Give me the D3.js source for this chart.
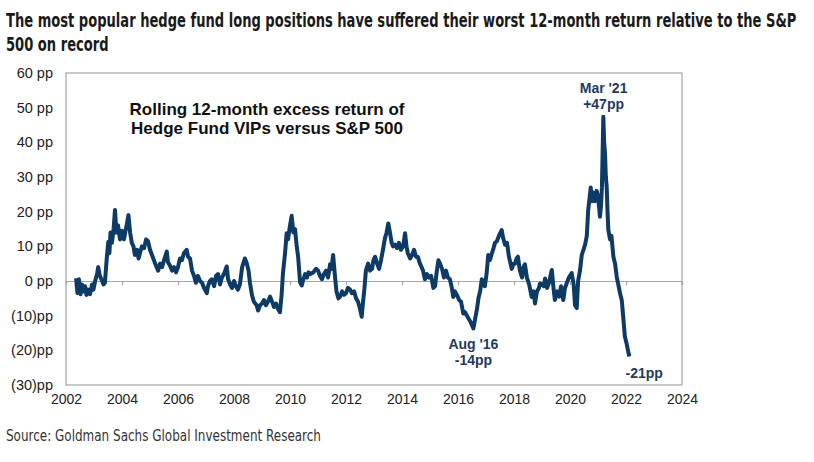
<!DOCTYPE html>
<html>
<head>
<meta charset="utf-8">
<script src="https://cdn.jsdelivr.net/npm/d3@7"></script>
<style>
  html, body { margin: 0; padding: 0; background: #fff; }
  svg { display: block; }
</style>
</head>
<body>
<svg id="chart" width="814" height="462"></svg>
<script>
// ---- Data ----
const titleLines = [
  "The most popular hedge fund long positions have suffered their worst 12-month return relative to the S&P",
  "500 on record"
];
const sourceText = "Source: Goldman Sachs Global Investment Research";
const boxLabel = ["Rolling 12-month excess return of", "Hedge Fund VIPs versus S&P 500"];

const yTicks = [60, 50, 40, 30, 20, 10, 0, -10, -20, -30];
const yTickLabels = ["60 pp", "50 pp", "40 pp", "30 pp", "20 pp", "10 pp", "0 pp", "(10)pp", "(20)pp", "(30)pp"];
const xTicks = [2002, 2004, 2006, 2008, 2010, 2012, 2014, 2016, 2018, 2020, 2022, 2024];

// decimal year
const dates = [
  2002.36,2002.41,2002.46,2002.52,2002.57,2002.63,2002.68,2002.73,2002.79,2002.86,2002.93,2002.98,
  2003.04,2003.11,2003.15,2003.21,2003.29,2003.34,2003.39,2003.45,2003.51,2003.55,2003.59,2003.64,2003.70,2003.75,2003.80,2003.86,2003.93,
  2004.00,2004.07,2004.14,2004.23,2004.29,2004.35,2004.41,2004.46,2004.54,2004.59,2004.64,2004.71,2004.79,2004.86,2004.93,
  2005.00,2005.07,2005.14,2005.21,2005.29,2005.36,2005.43,2005.50,2005.60,2005.64,2005.71,2005.79,2005.86,2005.93,
  2006.00,2006.07,2006.14,2006.21,2006.31,2006.36,2006.43,2006.50,2006.57,2006.64,2006.71,2006.79,2006.86,2006.93,
  2007.03,2007.07,2007.14,2007.21,2007.29,2007.36,2007.43,2007.50,2007.57,2007.64,2007.74,2007.79,2007.86,2007.93,
  2008.00,2008.07,2008.14,2008.21,2008.29,2008.39,2008.46,2008.52,2008.57,2008.64,2008.71,2008.81,2008.86,2008.93,
  2009.00,2009.07,2009.14,2009.21,2009.29,2009.36,2009.43,2009.50,2009.57,2009.64,2009.70,2009.75,2009.82,2009.88,2009.93,
  2010.00,2010.06,2010.12,2010.18,2010.24,2010.29,2010.36,2010.42,2010.46,2010.54,2010.61,2010.66,2010.71,2010.82,2010.93,
  2011.00,2011.07,2011.14,2011.21,2011.29,2011.36,2011.43,2011.48,2011.54,2011.61,2011.66,2011.73,2011.79,2011.86,2011.93,
  2012.00,2012.07,2012.14,2012.21,2012.29,2012.36,2012.43,2012.50,2012.56,2012.61,2012.66,2012.71,2012.79,2012.86,2012.93,2012.98,
  2013.04,2013.11,2013.18,2013.25,2013.32,2013.39,2013.45,2013.51,2013.57,2013.63,2013.68,2013.75,2013.82,2013.89,2013.96,
  2014.04,2014.11,2014.16,2014.21,2014.29,2014.36,2014.43,2014.50,2014.57,2014.64,2014.70,2014.75,2014.82,2014.89,2014.96,
  2015.04,2015.12,2015.18,2015.23,2015.30,2015.36,2015.43,2015.50,2015.57,2015.64,2015.71,2015.78,2015.83,2015.89,2015.96,
  2016.04,2016.11,2016.19,2016.25,2016.32,2016.39,2016.46,2016.55,2016.61,2016.68,2016.73,2016.79,2016.85,2016.89,2016.96,
  2017.02,2017.08,2017.14,2017.21,2017.27,2017.32,2017.39,2017.46,2017.56,2017.61,2017.68,2017.75,2017.82,2017.92,2017.98,
  2018.04,2018.09,2018.14,2018.21,2018.29,2018.34,2018.39,2018.46,2018.54,2018.63,2018.70,2018.75,2018.82,2018.89,2018.93,
  2019.00,2019.07,2019.11,2019.18,2019.25,2019.35,2019.41,2019.46,2019.54,2019.61,2019.68,2019.76,2019.82,2019.89,2019.96,
  2020.06,2020.13,2020.18,2020.24,2020.29,2020.36,2020.42,2020.48,2020.54,2020.60,2020.65,2020.70,2020.74,2020.79,2020.84,2020.89,2020.95,
  2021.00,2021.07,2021.11,2021.14,2021.19,2021.22,2021.25,2021.28,2021.31,2021.34,2021.37,2021.43,2021.48,2021.55,2021.61,2021.67,2021.71,2021.79,2021.85,2021.90,2021.96,
  2022.02,2022.08,2022.12
];
// excess return, pp
const excessReturn = [
  0.8,-3.5,0.5,-3.8,-1,-3,-1.5,-4,-2.5,-3.8,-1,-2.5,
  0,2,4,1.5,0,-1,-0.5,6,11.3,8,14,11,15,20.5,14,16,12,
  14.5,12,15,19,14,11,10,7.5,9,6.5,8,10,9.5,12,11.5,
  9,7.5,6,4.5,3,5,4,6,8.5,5.5,4.5,3,4,2.5,
  4,6.5,6,8,9,7,6.5,3,1.5,-0.5,1.5,0,-0.5,-2,
  -3.5,-1.5,0,0.5,-1.5,1.5,2,-1,1,2,4.2,0.5,-1,-2,
  0,-1.5,-2.5,-1,4,6.5,5,3,-0.5,-4,-6,-7,-8.5,-7,
  -6.5,-5.5,-7,-6,-4.5,-6,-7.5,-6.5,-8,-9,-4,2.4,7.7,13.8,12,
  16,18.8,14,15,10,7,-0.4,-1.3,0,2,1,2.5,2,2.4,3.5,
  3,1.5,0.5,2,3,1,4.8,3.5,7.5,1,-3,-5,-4.5,-3,-4,
  -3.5,-2,-2.4,-3.5,-3,-5,-6,-8,-10.3,-6,-2,3,5,3,3.5,6,
  7,5,3.5,6,9,12.3,14,16.6,14,11,10,10.5,9.5,11,9,
  10,13.8,10,8,6.5,7.5,9,7,6.9,5,4,3,0.5,2,1,
  1.5,-2,-1.5,2,6,5,3.5,1,3,1,0.5,-2,-4.6,-3,-4,
  -5.5,-6,-9.4,-9,-10,-11,-12,-13.7,-11,-8,-5,-3,0.5,-1,-1.5,
  2,7.5,6,8,9.5,11,11.5,13,14.7,12.5,10.5,11,7,3.5,5,
  5,6.5,7,3,1,4,4.8,1,-1,-4.6,-3,-6.5,-3,-2,-0.7,
  -1,-1.5,0.7,-2,-0.5,3.2,-2,-5.5,-3,-4.5,-1.5,-5.5,-2,-0.5,1,
  2.3,-1,-7,-7.8,0,3.2,7.5,9,10.5,13,20.5,24,27,23,25.5,23,26,
  24.5,18.5,22,27,47.4,40,36.9,30,27.2,20,14.7,12,13,7,5,1.2,-0.5,-3.6,-5.6,-10.3,-16,
  -18,-20.4,-21.8
];

const annotations = [
  { year: 2021.2, value: 47, lines: ["Mar '21", "+47pp"], dy: [-25, -9] },
  { year: 2016.55, value: -14, lines: ["Aug '16", "-14pp"], dy: [19, 35] },
  { year: 2022.65, value: -21, lines: ["-21pp"], dy: [24] }
];

// ---- Layout ----
const svg = d3.select("#chart");
const W = 814, H = 462;
const plot = { left: 66, right: 682, top: 73, bottom: 385 };

svg.append("rect").attr("width", W).attr("height", H).attr("fill", "#fff");

const x = d3.scaleLinear().domain([2002, 2024]).range([plot.left, plot.right]);
const y = d3.scaleLinear().domain([-30, 60]).range([plot.bottom, plot.top]);

const axisColor = "#a6a6a6";
const labelFont = "'Liberation Sans', Arial, sans-serif";
const annColor = "#1f3a60";
const condFont = "'DejaVu Sans Condensed', 'DejaVu Sans', sans-serif";

// Title: condensed font, horizontally compressed to match the reference width
const titleG = svg.append("g");
const tTexts = titleLines.map((t, i) =>
  titleG.append("text")
    .attr("x", 0).attr("y", 27 + i * 24)
    .attr("font-family", condFont)
    .attr("font-weight", "bold")
    .attr("font-size", 19)
    .attr("fill", "#1a1a1a")
    .text(t));
const natW = tTexts[0].node().getComputedTextLength();
const sx = 791 / natW;
titleG.attr("transform", `translate(6,0) scale(${sx},1)`);

// Frame
svg.append("rect")
  .attr("x", plot.left).attr("y", plot.top)
  .attr("width", plot.right - plot.left).attr("height", plot.bottom - plot.top)
  .attr("fill", "none").attr("stroke", axisColor).attr("stroke-width", 1.2);

// Zero axis with ticks
const xAxis = d3.axisBottom(x).tickValues(xTicks).tickSize(4).tickFormat("");
const xg = svg.append("g").attr("transform", `translate(0,${y(0)})`).call(xAxis);
xg.select(".domain").attr("stroke", axisColor).attr("stroke-width", 1.2);
xg.selectAll(".tick line").attr("stroke", axisColor).attr("stroke-width", 1.2);

// X labels
const xl = d3.axisBottom(x).tickValues(xTicks).tickSize(0).tickPadding(0).tickFormat(d3.format("d"));
const xlg = svg.append("g").attr("transform", `translate(0,${plot.bottom + 7})`).call(xl);
xlg.select(".domain").remove();
xlg.selectAll("text").attr("font-family", labelFont).attr("font-size", 14).attr("fill", "#222").attr("dy", "0.85em");

// Y labels
const yl = d3.axisLeft(y).tickValues(yTicks).tickSize(0).tickPadding(0)
  .tickFormat(d => yTickLabels[yTicks.indexOf(d)]);
const ylg = svg.append("g").attr("transform", `translate(${plot.left - 13},0)`).call(yl);
ylg.select(".domain").remove();
ylg.selectAll("text").attr("font-family", labelFont).attr("font-size", 14.5).attr("fill", "#222");

// Line
const data = dates.map((d, i) => ({ t: d, v: excessReturn[i] }));
const line = d3.line().x(d => x(d.t)).y(d => y(d.v));
svg.append("path")
  .datum(data)
  .attr("d", line)
  .attr("fill", "none")
  .attr("stroke", "#0e3a66")
  .attr("stroke-width", 4)
  .attr("stroke-linejoin", "round");

// Box label
boxLabel.forEach((t, i) => {
  svg.append("text")
    .attr("x", 267).attr("y", 115 + i * 19)
    .attr("text-anchor", "middle")
    .attr("font-family", labelFont)
    .attr("font-weight", "bold")
    .attr("font-size", 17)
    .attr("fill", "#111")
    .text(t);
});

// Annotations
annotations.forEach(a => {
  a.lines.forEach((t, i) => {
    svg.append("text")
      .attr("x", x(a.year)).attr("y", y(a.value) + a.dy[i])
      .attr("text-anchor", "middle")
      .attr("font-family", labelFont)
      .attr("font-weight", "bold")
      .attr("font-size", 14)
      .attr("fill", annColor)
      .text(t);
  });
});

// Source
const srcG = svg.append("g");
const src = srcG.append("text")
  .attr("x", 0).attr("y", 441)
  .attr("font-family", condFont)
  .attr("font-size", 15)
  .attr("fill", "#333")
  .text(sourceText);
const sW = src.node().getComputedTextLength();
srcG.attr("transform", `translate(6,0) scale(${315 / sW},1)`);
</script>
</body>
</html>
